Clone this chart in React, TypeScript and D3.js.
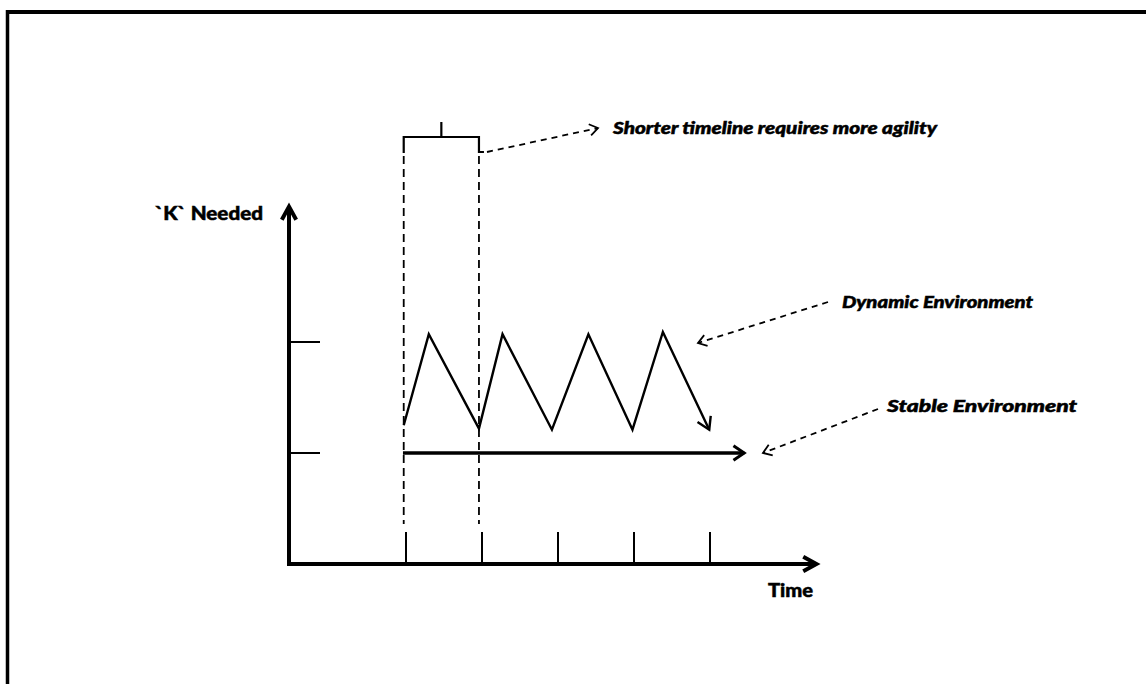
import React from "react";
import * as d3 from "d3";

// ---- data (time units, "K" level units) ----
const timeTicks = [1, 2, 3, 4, 5];
const levelTicks = [1, 2];
const axisTimeRange = [-0.55, 6.4];
const axisLevelTop = 3.22;
const dynamicTime = [0.97, 1.3, 1.96, 2.27, 2.92, 3.4, 3.98, 4.38, 4.99];
const dynamicLevel = [1.25, 2.07, 1.22, 2.07, 1.21, 2.07, 1.21, 2.09, 1.21];
const stableTime = [0.96, 5.45];
const stableLevel = [1, 1];
const windowTimes = [0.97, 1.96];
const labels = {
  y: "`K` Needed",
  x: "Time",
  shorter: "Shorter timeline requires more agility",
  dynamic: "Dynamic Environment",
  stable: "Stable Environment",
};

const W = 1146;
const H = 684;

export default function App() {
  const x = d3.scaleLinear().domain([1, 5]).range([406, 710]);
  const y = d3.scaleLinear().domain([0, 2]).range([564, 342]);
  const line = d3
    .line<[number, number]>()
    .x((d) => x(d[0]))
    .y((d) => y(d[1]));

  const dyn: [number, number][] = dynamicTime.map((t, i) => [t, dynamicLevel[i]]);
  const stab: [number, number][] = stableTime.map((t, i) => [t, stableLevel[i]]);

  const x1 = x(axisTimeRange[1]);
  const y0 = y(0);
  const yTop = y(axisLevelTop);

  const head = (fx: number, fy: number, tx: number, ty: number, len: number, spread = 0.55) => {
    const a = Math.atan2(ty - fy, tx - fx);
    const p1 = [tx - len * Math.cos(a - spread), ty - len * Math.sin(a - spread)];
    const p2 = [tx - len * Math.cos(a + spread), ty - len * Math.sin(a + spread)];
    return `M${p1[0]},${p1[1]}L${tx},${ty}L${p2[0]},${p2[1]}`;
  };

  const last = dyn[dyn.length - 1];
  const prev = dyn[dyn.length - 2];
  const bracketY = 137;
  const bl = x(windowTimes[0]);
  const br = x(windowTimes[1]);

  const annot = [
    { from: [487, 152], to: [598, 128] },
    { from: [828, 302], to: [698, 343] },
    { from: [878, 409], to: [763, 453] },
  ];

  const txtItalic: React.CSSProperties = {
    fontFamily: "Lato, 'Open Sans', sans-serif",
    fontStyle: "italic",
    fontWeight: 900,
    fontSize: 17,
    stroke: "#000",
    strokeWidth: 0.5,
  };
  const txtBold: React.CSSProperties = {
    fontFamily: "Lato, 'Open Sans', sans-serif",
    fontWeight: 900,
    fontSize: 18,
    stroke: "#000",
    strokeWidth: 0.5,
  };

  return (
    <svg
      width={W}
      height={H}
      viewBox={`0 0 ${W} ${H}`}
      style={{ position: "absolute", left: 0, top: 0, background: "#fff" }}
    >
      <rect x={0} y={0} width={W} height={H} fill="#fff" />
      {/* frame */}
      <line x1={7.5} y1={10} x2={7.5} y2={H} stroke="#000" strokeWidth={3.5} />
      <line x1={6} y1={12} x2={W} y2={12} stroke="#000" strokeWidth={4} />

      {/* axes */}
      <line x1={289} y1={y0 + 1} x2={289} y2={yTop + 2} stroke="#000" strokeWidth={4} />
      <path d={head(289, 260, 289, yTop, 15, 0.5)} fill="none" stroke="#000" strokeWidth={4} />
      <line x1={287} y1={y0} x2={x1 - 2} y2={y0} stroke="#000" strokeWidth={4} />
      <path d={head(700, y0, x1, y0, 15, 0.5)} fill="none" stroke="#000" strokeWidth={4} />

      {levelTicks.map((v) => (
        <line key={v} x1={290} x2={320} y1={y(v)} y2={y(v)} stroke="#000" strokeWidth={2} />
      ))}
      {timeTicks.map((t) => (
        <line key={t} x1={x(t)} x2={x(t)} y1={y0} y2={y0 - 32} stroke="#000" strokeWidth={2} />
      ))}

      {windowTimes.map((t) => (
        <line
          key={t}
          x1={x(t)}
          x2={x(t)}
          y1={156}
          y2={524}
          stroke="#000"
          strokeWidth={1.8}
          strokeDasharray="8,5"
        />
      ))}

      <path
        d={`M${bl},${bracketY + 16}L${bl},${bracketY}L${br},${bracketY}L${br},${bracketY + 15}L${br + 5},${bracketY + 15}`}
        fill="none"
        stroke="#000"
        strokeWidth={2.2}
      />
      <line x1={(bl + br) / 2} x2={(bl + br) / 2} y1={bracketY - 15} y2={bracketY} stroke="#000" strokeWidth={2.2} />

      <path d={line(dyn) || ""} fill="none" stroke="#000" strokeWidth={2.4} />
      <path
        d={head(x(prev[0]), y(prev[1]), x(last[0]), y(last[1]), 14, 0.55)}
        fill="none"
        stroke="#000"
        strokeWidth={2.4}
      />

      <path d={line(stab) || ""} fill="none" stroke="#000" strokeWidth={3.5} />
      <path
        d={head(x(stab[0][0]), y(stab[0][1]), x(stab[1][0]), y(stab[1][1]), 13, 0.6)}
        fill="none"
        stroke="#000"
        strokeWidth={3}
      />

      {annot.map((a, i) => (
        <g key={i}>
          <line
            x1={a.from[0]}
            y1={a.from[1]}
            x2={a.to[0]}
            y2={a.to[1]}
            stroke="#000"
            strokeWidth={1.8}
            strokeDasharray="6,5"
          />
          <path d={head(a.from[0], a.from[1], a.to[0], a.to[1], 10, 0.6)} fill="none" stroke="#000" strokeWidth={1.8} />
        </g>
      ))}

      <text x={155} y={220} style={txtBold} textLength={108} lengthAdjust="spacingAndGlyphs">
        {labels.y}
      </text>
      <text x={768} y={597} style={txtBold} textLength={45} lengthAdjust="spacingAndGlyphs">
        {labels.x}
      </text>
      <text x={613} y={134} style={txtItalic} textLength={324} lengthAdjust="spacingAndGlyphs">
        {labels.shorter}
      </text>
      <text x={842} y={308} style={txtItalic} textLength={191} lengthAdjust="spacingAndGlyphs">
        {labels.dynamic}
      </text>
      <text x={887} y={412} style={txtItalic} textLength={190} lengthAdjust="spacingAndGlyphs">
        {labels.stable}
      </text>
    </svg>
  );
}
